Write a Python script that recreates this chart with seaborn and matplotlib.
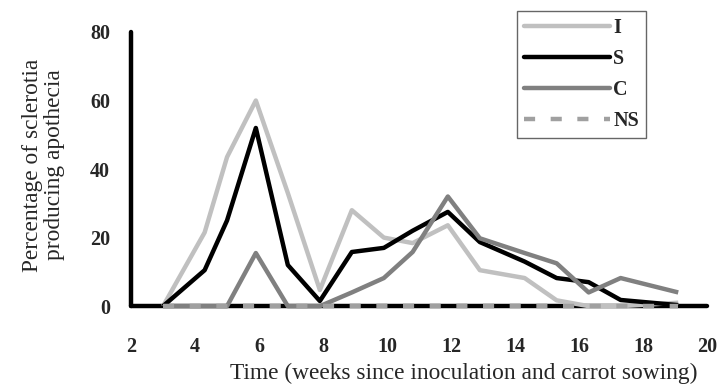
import numpy as np
import pandas as pd
import matplotlib
matplotlib.use("Agg")
import matplotlib.pyplot as plt
import seaborn as sns

weeks = [3, 4.3, 5.0, 5.9, 6.9, 7.9, 8.9, 9.9, 10.8, 11.9, 12.9, 14.3, 15.3, 16.3, 17.3, 19.1]
I_vals = [0, 21.5, 43.5, 60, 33, 4.7, 28, 20, 18.4, 23.6, 10.5, 8.2, 1.7, 0, 0, 1]
S_vals = [0, 10.5, 25, 52, 12, 1.5, 15.8, 17, 22, 27.5, 18.7, 13, 8.2, 7, 1.8, 0.3]
C_vals = [0, 0, 0, 15.5, 0, 0, 4, 8.2, 15.8, 32, 19.8, 15.5, 12.5, 4, 8.2, 4]
NS_vals = [0] * len(weeks)
series_names = ["I", "S", "C", "NS"]
x_ticks = [2, 4, 6, 8, 10, 12, 14, 16, 18, 20]
y_ticks = [0, 20, 40, 60, 80]

df = pd.DataFrame({
    "week": weeks * 4,
    "value": I_vals + S_vals + C_vals + NS_vals,
    "series": sum([[n] * len(weeks) for n in series_names], []),
})

sns.set_style("white")
plt.rcParams["font.family"] = ["Liberation Serif", "DejaVu Serif"]

fig = plt.figure(figsize=(7.2, 3.9), dpi=100)
ax = fig.add_axes([0.182, 0.215, 0.8, 0.703])

styles = {
    "I": dict(color="#c0c0c0"),
    "S": dict(color="#000000"),
    "C": dict(color="#808080"),
    "NS": dict(color="#a0a0a0", dashes=(2.5, 3.5)),
}
for name in series_names:
    sub = df[df["series"] == name]
    st = styles[name]
    kw = {}
    if "dashes" in st:
        kw["dashes"] = st["dashes"]
    sns.lineplot(data=sub, x="week", y="value", ax=ax, color=st["color"],
                 linewidth=3.2, label=name, zorder=5 if name != "NS" else 6, **kw)
    ax.lines[-1].set_clip_on(False)
    ax.lines[-1].set_solid_capstyle("butt")
    ax.lines[-1].set_dash_capstyle("butt")

ax.set_xlim(2, 20)
ax.set_ylim(0, 80)
ax.set_xticks(x_ticks)
ax.set_yticks(y_ticks)
ax.tick_params(axis="both", length=0, labelsize=14.5)
for lab in ax.get_xticklabels() + ax.get_yticklabels():
    lab.set_fontweight("bold")
ax.tick_params(axis="x", pad=22)
ax.tick_params(axis="y", pad=15)

for s in ["top", "right"]:
    ax.spines[s].set_visible(False)
for s in ["left", "bottom"]:
    ax.spines[s].set_linewidth(3.2)
    ax.spines[s].set_color("black")
    ax.spines[s].set_capstyle("round")

ax.set_xlabel("Time (weeks since inoculation and carrot sowing)", fontsize=16.8)
ax.xaxis.set_label_coords(0.578, -0.205)
ax.set_ylabel("Percentage of sclerotia\nproducing apothecia", fontsize=16.8,
              linespacing=1.05)
ax.yaxis.set_label_coords(-0.115, 0.515)

leg = ax.legend(loc="upper right", bbox_to_anchor=(0.894, 1.077), borderaxespad=0,
                frameon=True, fancybox=False,
                handlelength=4.3, handletextpad=0.15, labelspacing=0.55, borderpad=0.35,
                prop={"family": "Liberation Serif", "weight": "bold", "size": 14.5})
leg.get_frame().set_edgecolor("#404040")
leg.get_frame().set_linewidth(1.0)
for h in leg.get_lines():
    h.set_solid_capstyle("round")

fig.savefig("out.png", dpi=100)
